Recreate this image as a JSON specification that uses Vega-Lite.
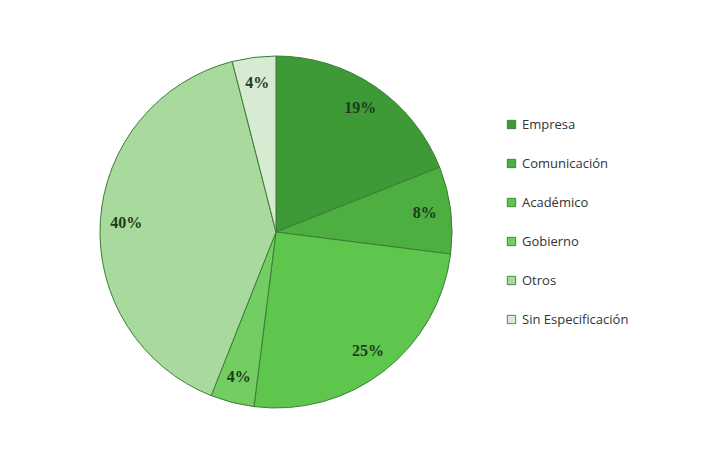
{
  "$schema": "https://vega.github.io/schema/vega-lite/v6.json",
  "autosize": "none",
  "width": 530,
  "height": 448,
  "padding": {"left": 11, "top": 8, "right": 176, "bottom": 1},
  "background": "white",
  "config": {"view": {"stroke": null}},
  "data": {
    "values": [
      {"categoria": "Empresa", "porcentaje": 0.19, "orden": 1},
      {"categoria": "Comunicación", "porcentaje": 0.08, "orden": 2},
      {"categoria": "Académico", "porcentaje": 0.25, "orden": 3},
      {"categoria": "Gobierno", "porcentaje": 0.04, "orden": 4},
      {"categoria": "Otros", "porcentaje": 0.40, "orden": 5},
      {"categoria": "Sin Especificación", "porcentaje": 0.04, "orden": 6}
    ]
  },
  "encoding": {
    "theta": {"field": "porcentaje", "type": "quantitative", "stack": true},
    "order": {"field": "orden", "type": "quantitative"},
    "color": {
      "field": "categoria",
      "type": "nominal",
      "sort": null,
      "scale": {
        "domain": ["Empresa", "Comunicación", "Académico", "Gobierno", "Otros", "Sin Especificación"],
        "range": ["#3e9a36", "#4caf3f", "#5ec54d", "#74cd63", "#a8da9d", "#d6ebd2"]
      },
      "legend": {
        "title": null,
        "orient": "none",
        "legendX": 494,
        "legendY": 110,
        "symbolType": "square",
        "symbolSize": 70,
        "symbolStrokeWidth": 0.8,
        "symbolStrokeColor": "#2f6e2a",
        "labelFont": "Open Sans",
        "labelFontSize": 13,
        "labelColor": "#333333",
        "rowPadding": 25,
        "labelOffset": 4
      }
    }
  },
  "layer": [
    {
      "mark": {"type": "arc", "outerRadius": 176, "stroke": "#3b7d35", "strokeWidth": 1}
    },
    {
      "mark": {"type": "text", "radius": 150, "font": "Liberation Serif", "fontWeight": "bold", "fontSize": 16},
      "encoding": {
        "text": {"field": "porcentaje", "type": "quantitative", "format": ".0%"},
        "color": {"value": "#1e3b1c"}
      }
    }
  ]
}
